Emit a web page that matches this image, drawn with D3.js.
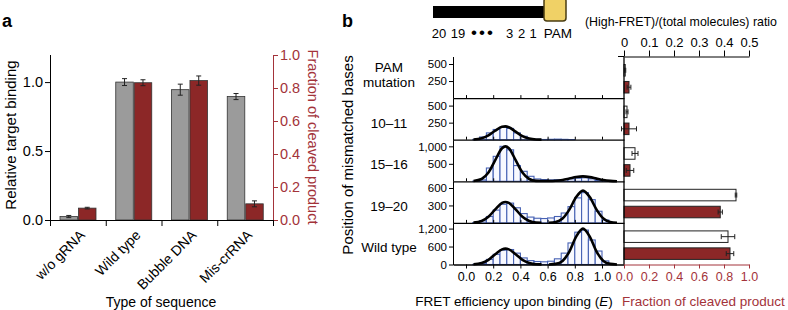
<!DOCTYPE html>
<html>
<head>
<meta charset="utf-8">
<script src="https://cdn.jsdelivr.net/npm/d3@7"></script>
<style>
body { margin: 0; background: #fff; }
</style>
</head>
<body>
<div id="chart"></div>
<script>
var FONT = "'Liberation Sans', Arial, Helvetica, sans-serif";
var RED = "#8c2727", RED_TXT = "#a3333a", BLUE = "#4762b4";

// ---------- panel a data
var seqTypes = ["w/o gRNA", "Wild type", "Bubble DNA", "Mis-crRNA"];
var bindingMean = [0.025, 1.0, 0.945, 0.895];
var bindingErr = [0.008, 0.025, 0.04, 0.022];
var cleavedMean = [0.072, 0.832, 0.845, 0.098];
var cleavedErr = [0.005, 0.018, 0.028, 0.018];
var bindingTicks = [0, 0.5, 1.0];
var cleavedTicks = [0, 0.2, 0.4, 0.6, 0.8, 1.0];

// ---------- panel b data
var rowNames = [["PAM", "mutation"], ["10–11"], ["15–16"], ["19–20"], ["Wild type"]];
var binEdges = [0.00, 0.05, 0.10, 0.15, 0.20, 0.25, 0.30, 0.35, 0.40, 0.45, 0.50,
                0.55, 0.60, 0.65, 0.70, 0.75, 0.80, 0.85, 0.90, 0.95, 1.00];
var binWidth = 0.05;
var countsPAM  = [0, 0, 0, 0, 0, 0, 0, 0, 0, 0, 0, 0, 0, 0, 0, 0, 0, 0, 0, 0, 0];
var counts1011 = [0, 4, 40, 100, 150, 180, 165, 100, 50, 15, 5, 3, 6, 8, 5, 2, 0, 0, 0, 0, 0];
var counts1516 = [0, 5, 40, 380, 714, 1000, 900, 450, 286, 143, 67, 50, 40, 45, 50, 70, 90, 100, 70, 30, 5];
var counts1920 = [0, 5, 35, 110, 220, 320, 340, 260, 160, 100, 80, 75, 85, 110, 170, 280, 430, 520, 400, 200, 50];
var countsWT   = [0, 5, 40, 170, 340, 480, 500, 380, 220, 130, 100, 90, 110, 190, 380, 720, 1080, 1150, 820, 450, 120];
var rowMax = [610, 610, 1190, 715, 1390];
var rowTicks = [[250, 500], [250, 500], [500, 1000], [300, 600], [0, 600, 1200]];

// gaussian fits (E, count)
var fitLowE  = [0.055, 0.115, 0.165, 0.215, 0.265, 0.29, 0.315, 0.365, 0.415, 0.465, 0.515, 0.555];
var fitHighE = [0.61, 0.66, 0.71, 0.76, 0.81, 0.86, 0.91, 0.96, 1.01, 1.06, 1.11];
var fitLow1011 = [3, 20, 63, 133, 189, 195, 182, 118, 52, 16, 3, 1];
var fitLow1516 = [7, 66, 250, 607, 946, 1000, 946, 607, 250, 66, 12, 8];
var fitHigh1516 = [8, 14, 37, 78, 121, 140, 120, 76, 35, 12, 3];
var fitLow1920 = [5, 33, 106, 232, 343, 360, 343, 232, 106, 33, 5, 2];
var fitHigh1920 = [2, 16, 75, 228, 444, 555, 444, 228, 75, 16, 2];
var fitLowWT = [7, 49, 156, 341, 505, 530, 505, 341, 156, 49, 7, 3];
var fitHighWT = [2, 20, 120, 432, 930, 1200, 930, 432, 120, 20, 2];

var highFretRatio = [0.005, 0.012, 0.044, 0.448, 0.416];
var highFretErr = [0.002, 0.004, 0.012, 0.003, 0.027];
var cleavedFrac = [0.04, 0.04, 0.048, 0.77, 0.848];
var cleavedFracErr = [0.015, 0.06, 0.03, 0.017, 0.03];
var ratioTicks = [0, 0.1, 0.2, 0.3, 0.4, 0.5];
var fracTicks = [0, 0.2, 0.4, 0.6, 0.8, 1.0];
var fretTicks = [0, 0.2, 0.4, 0.6, 0.8, 1.0];

var histRows = [countsPAM, counts1011, counts1516, counts1920, countsWT];
var fitLows = [null, fitLow1011, fitLow1516, fitLow1920, fitLowWT];
var fitHighs = [null, null, fitHigh1516, fitHigh1920, fitHighWT];
var fitJoined = [false, false, true, false, false];

var svg = d3.select("#chart").append("svg")
    .attr("width", 788)
    .attr("height", 310)
    .attr("font-family", FONT);

function styleAxis(g, size, color) {
    g.attr("font-family", FONT).attr("font-size", size);
    if (color) g.attr("color", color);
}

function errV(g, x, y1, y2, cap) {
    g.append("line").attr("x1", x).attr("x2", x).attr("y1", y1).attr("y2", y2)
        .attr("stroke", "#222").attr("stroke-width", 1);
    [y1, y2].forEach(function (y) {
        g.append("line").attr("x1", x - cap).attr("x2", x + cap).attr("y1", y).attr("y2", y)
            .attr("stroke", "#222").attr("stroke-width", 1);
    });
}

function errH(g, y, x1, x2, cap) {
    g.append("line").attr("x1", x1).attr("x2", x2).attr("y1", y).attr("y2", y)
        .attr("stroke", "#222").attr("stroke-width", 1);
    [x1, x2].forEach(function (x) {
        g.append("line").attr("x1", x).attr("x2", x).attr("y1", y - cap).attr("y2", y + cap)
            .attr("stroke", "#222").attr("stroke-width", 1);
    });
}

// =================== panel a
var gA = svg.append("g");
var xA = d3.scaleBand().domain(seqTypes).range([50, 273]);
var xSub = d3.scaleBand().domain(["binding", "cleaved"]).range([10, 46]).paddingInner(0.05);
var yBind = d3.scaleLinear().domain([0, 1.2]).range([220, 54.5]);
var yCleave = d3.scaleLinear().domain([0, 1]).range([220, 55]);

seqTypes.forEach(function (s, i) {
    var bw = xSub.bandwidth();
    var xb = xA(s) + xSub("binding"),
        xc = xA(s) + xSub("cleaved");
    gA.append("rect")
        .attr("x", xb).attr("y", yBind(bindingMean[i]))
        .attr("width", bw).attr("height", yBind(0) - yBind(bindingMean[i]))
        .attr("fill", "#9b9b9b").attr("stroke", "#333").attr("stroke-width", 0.8);
    gA.append("rect")
        .attr("x", xc).attr("y", yCleave(cleavedMean[i]))
        .attr("width", bw).attr("height", yCleave(0) - yCleave(cleavedMean[i]))
        .attr("fill", RED).attr("stroke", "#333").attr("stroke-width", 0.8);
    errV(gA, xb + bw / 2, yBind(bindingMean[i] - bindingErr[i]), yBind(bindingMean[i] + bindingErr[i]), 2.5);
    errV(gA, xc + bw / 2, yCleave(cleavedMean[i] - cleavedErr[i]), yCleave(cleavedMean[i] + cleavedErr[i]), 2.5);
});

var axL = gA.append("g").attr("transform", "translate(50,0)")
    .call(d3.axisLeft(yBind).tickValues(bindingTicks).tickFormat(d3.format(".1f"))
        .tickSize(5).tickPadding(2).tickSizeOuter(0));
styleAxis(axL, 14.5);

var axR = gA.append("g").attr("transform", "translate(273,0)")
    .call(d3.axisRight(yCleave).tickValues(cleavedTicks).tickFormat(d3.format(".1f"))
        .tickSize(5).tickPadding(2).tickSizeOuter(0));
styleAxis(axR, 14.5, RED_TXT);

// group boundary ticks
var xEdge = d3.scaleLinear().domain([50, 273]).range([50, 273]);
var axB = gA.append("g").attr("transform", "translate(0,220)")
    .call(d3.axisBottom(xEdge).tickValues(seqTypes.map(xA).concat([273]))
        .tickFormat("").tickSize(6).tickSizeOuter(0));
styleAxis(axB, 13);

gA.selectAll(".xlab").data(seqTypes).enter().append("text")
    .attr("transform", function (d) {
        return "translate(" + (xA(d) + xA.bandwidth() / 2 + 8) + ",236) rotate(-45)";
    })
    .attr("text-anchor", "end")
    .attr("font-size", 14)
    .text(function (d) { return d; });

gA.append("text").attr("transform", "translate(11,135) rotate(-90)")
    .attr("dy", "0.35em").attr("text-anchor", "middle").attr("font-size", 15)
    .text("Relative target binding");
gA.append("text").attr("transform", "translate(313,137) rotate(90)")
    .attr("dy", "0.35em").attr("text-anchor", "middle").attr("font-size", 14.5)
    .attr("fill", RED_TXT)
    .text("Fraction of cleaved product");
gA.append("text").attr("x", 161).attr("y", 307).attr("text-anchor", "middle")
    .attr("font-size", 14).text("Type of sequence");
svg.append("text").attr("x", 2).attr("y", 27).attr("font-size", 18)
    .attr("font-weight", "bold").text("a");

// =================== panel b
var gB = svg.append("g");
svg.append("text").attr("x", 342).attr("y", 27).attr("font-size", 18)
    .attr("font-weight", "bold").text("b");

// schematic of target strand
gB.append("rect").attr("x", 433).attr("y", 6).attr("width", 112).attr("height", 12).attr("fill", "#000");
gB.append("rect").attr("x", 544).attr("y", -2).attr("width", 22).attr("height", 23).attr("rx", 3)
    .attr("fill", "#f0d166").attr("stroke", "#4a3d12").attr("stroke-width", 1.5);
var posLabels = ["20", "19", "•", "•", "•", "3", "2", "1"];
var posX = [439, 458, 474, 482, 490, 509.5, 521.5, 533];
posLabels.forEach(function (t, i) {
    gB.append("text").attr("x", posX[i]).attr("y", 38).attr("text-anchor", "middle")
        .attr("font-size", t === "•" ? 17 : 13).text(t);
});
gB.append("text").attr("x", 558).attr("y", 38).attr("text-anchor", "middle")
    .attr("font-size", 13.5).text("PAM");

var xH = d3.scaleLinear().domain([0, 1]).range([466, 602]);
var xHax = d3.scaleLinear().domain([xH.invert(453), xH.invert(624)]).range([453, 624]);
var xRatio = d3.scaleLinear().domain([0, 0.5]).range([624, 749]);
var xFrac = d3.scaleLinear().domain([0, 1]).range([624, 749]);
var rowTop0 = 56.5, rowH = 41.6;
var yBand = d3.scaleBand().domain(["ratio", "frac"]).range([8, 36.5]).paddingInner(0.32);

var fitLine = d3.line().curve(d3.curveMonotoneX);

histRows.forEach(function (counts, i) {
    var top = rowTop0 + i * rowH, bottom = top + rowH;
    var y = d3.scaleLinear().domain([0, rowMax[i]]).range([bottom, top]);
    var g = gB.append("g");

    // histogram bars
    counts.forEach(function (c, j) {
        if (c <= 0) return;
        g.append("rect")
            .attr("x", xH(binEdges[j]))
            .attr("width", xH(binEdges[j] + binWidth) - xH(binEdges[j]))
            .attr("y", y(c)).attr("height", bottom - y(c))
            .attr("fill", "#f8f9ff").attr("stroke", BLUE).attr("stroke-width", 1.1);
    });

    // fits
    fitLine.x(function (d) { return xH(d[0]); }).y(function (d) { return y(d[1]); });
    var low = fitLows[i] ? fitLows[i].map(function (v, k) { return [fitLowE[k], v]; }) : null;
    var high = fitHighs[i] ? fitHighs[i].map(function (v, k) { return [fitHighE[k], v]; }) : null;
    var segs = [];
    if (fitJoined[i]) segs.push(low.concat(high));
    else {
        if (low) segs.push(low);
        if (high) segs.push(high);
    }
    segs.forEach(function (pts) {
        g.append("path").attr("d", fitLine(pts)).attr("fill", "none")
            .attr("stroke", "#000").attr("stroke-width", 2.6);
    });

    // y axis
    var ay = g.append("g").attr("transform", "translate(453,0)")
        .call(d3.axisLeft(y).tickValues(rowTicks[i]).tickFormat(d3.format(","))
            .tickSize(4).tickPadding(2).tickSizeOuter(0));
    styleAxis(ay, 11.5);

    // x axis line
    var ax;
    if (i < histRows.length - 1) {
        ax = g.append("g").attr("transform", "translate(0," + bottom + ")")
            .call(d3.axisBottom(xHax).tickValues(fretTicks).tickFormat("").tickSize(-3).tickSizeOuter(0));
    } else {
        ax = g.append("g").attr("transform", "translate(0," + bottom + ")")
            .call(d3.axisBottom(xHax).tickValues(fretTicks).tickFormat(d3.format(".1f"))
                .tickSize(4).tickPadding(4).tickSizeOuter(0));
    }
    styleAxis(ax, 12.5);
    ax.select(".domain").attr("stroke-width", 1.3);

    // row label
    var midTick = rowTicks[i][rowTicks[i].length - 2];
    var lines = rowNames[i];
    lines.forEach(function (t, k) {
        g.append("text").attr("x", 389)
            .attr("y", y(midTick) + 5.5 - (lines.length - 1 - k) * 15)
            .attr("text-anchor", "middle").attr("font-size", 13.5).text(t);
    });

    // right bars
    var yr = top + yBand("ratio"), yf = top + yBand("frac"), bh = yBand.bandwidth();
    g.append("rect").attr("x", xRatio(0)).attr("y", yr)
        .attr("width", xRatio(highFretRatio[i]) - xRatio(0)).attr("height", bh)
        .attr("fill", "#fff").attr("stroke", "#222").attr("stroke-width", 1);
    errH(g, yr + bh / 2, xRatio(highFretRatio[i] - highFretErr[i]), xRatio(highFretRatio[i] + highFretErr[i]), 2.5);
    g.append("rect").attr("x", xFrac(0)).attr("y", yf)
        .attr("width", xFrac(cleavedFrac[i]) - xFrac(0)).attr("height", bh)
        .attr("fill", RED).attr("stroke", "#222").attr("stroke-width", 1);
    errH(g, yf + bh / 2, xFrac(cleavedFrac[i] - cleavedFracErr[i]), xFrac(cleavedFrac[i] + cleavedFracErr[i]), 2.5);
});

var bottomAll = rowTop0 + histRows.length * rowH;
gB.append("line").attr("x1", 624).attr("x2", 624).attr("y1", rowTop0).attr("y2", bottomAll)
    .attr("stroke", "#000").attr("stroke-width", 1.3);

var axTop = gB.append("g").attr("transform", "translate(0," + rowTop0 + ")")
    .call(d3.axisTop(xRatio).tickValues(ratioTicks).tickFormat(d3.format(""))
        .tickSize(6).tickPadding(4).tickSizeOuter(0));
styleAxis(axTop, 13);
gB.append("line").attr("x1", 618).attr("x2", 624).attr("y1", rowTop0).attr("y2", rowTop0)
    .attr("stroke", "#000").attr("stroke-width", 1);

var axFrac = gB.append("g").attr("transform", "translate(0," + bottomAll + ")")
    .call(d3.axisBottom(xFrac).tickValues(fracTicks).tickFormat(d3.format(".1f"))
        .tickSize(4).tickPadding(4).tickSizeOuter(0));
styleAxis(axFrac, 12.5, RED_TXT);

gB.append("text").attr("x", 585).attr("y", 26).attr("font-size", 13)
    .attr("textLength", 192).attr("lengthAdjust", "spacingAndGlyphs")
    .text("(High-FRET)/(total molecules) ratio");

var fretTitle = gB.append("text").attr("x", 514).attr("y", 306)
    .attr("text-anchor", "middle").attr("font-size", 13.5);
fretTitle.append("tspan").text("FRET efficiency upon binding (");
fretTitle.append("tspan").attr("font-style", "italic").text("E");
fretTitle.append("tspan").text(")");

gB.append("text").attr("x", 622).attr("y", 306).attr("font-size", 13.5)
    .attr("fill", RED_TXT).text("Fraction of cleaved product");

gB.append("text").attr("transform", "translate(348,155) rotate(-90)")
    .attr("dy", "0.35em").attr("text-anchor", "middle").attr("font-size", 15)
    .text("Position of mismatched bases");
</script>
</body>
</html>
